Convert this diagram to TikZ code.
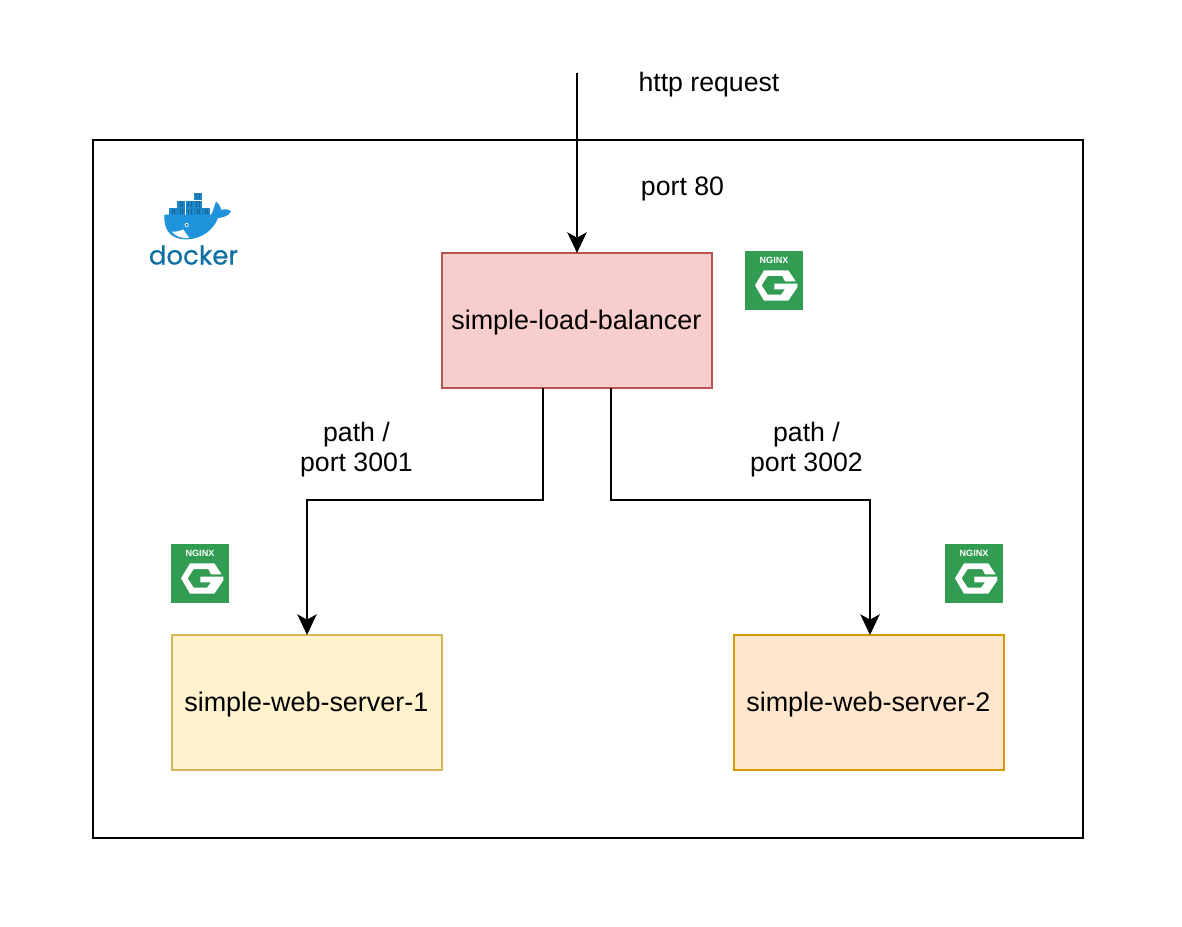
\documentclass[tikz,border=0pt]{standalone}
\usepackage{fontspec}
\setmainfont{Liberation Sans}
\newfontfamily\dockerfont[FakeBold=0.5]{Poppins}
\usetikzlibrary{arrows.meta,calc}
\definecolor{ngreen}{HTML}{329D52}
\definecolor{dblue}{HTML}{1F93DC}
\definecolor{dtext}{HTML}{0E6FA3}
\newcommand{\boxlabel}[1]{\kern-1pt\raisebox{-7pt}[0pt][0pt]{#1}}
\tikzset{
  px/.style={x=0.75pt,y=-0.75pt},
  service/.style={draw,line width=1.5pt,minimum width=202.5pt,minimum height=101.25pt,inner sep=0pt,outer sep=0pt,text=black,font=\fontsize{20.2}{24}\selectfont},
  label/.style={inner sep=0pt,align=center,font=\fontsize{20}{22.5}\selectfont,text=black},
  conn/.style={draw=black,line width=1.5pt,-{Stealth[length=15.5pt,width=14.5pt,inset=4pt]}},
  nginxicon/.pic={
    \begin{scope}[x=0.25pt,y=-0.25pt]
    \fill[ngreen] (30,28) rectangle (205,204);
    \fill[white] (60,130)--(87,85)--(160,85)--(182,118)--(150,118)--(142,102)--(98,102)--(80,130)--(98,158)--(138,158)--(150,142)--(118,142)--(118,125)--(187,125)--(187,136)--(160,176)--(87,176)--cycle;
    \node[text=white,inner sep=0pt,font=\bfseries\fontsize{6.8}{7}\selectfont] at (117,56) {NGINX};
    \end{scope}
  }
}
\begin{document}
\begin{tikzpicture}[px]
\useasboundingbox (0,0) rectangle (1182,927);
\fill[white] (0,0) rectangle (1182,927);
\node[draw=black,line width=1.5pt,minimum width=742.5pt,minimum height=523.5pt,inner sep=0pt,outer sep=0pt] (docker) at (588,489) {};
\node[service,fill={rgb,255:red,248;green,206;blue,204},draw={rgb,255:red,184;green,84;blue,80}] (lb) at (577,320.5) {\boxlabel{simple-load-balancer}};
\node[service,fill={rgb,255:red,255;green,242;blue,204},draw={rgb,255:red,214;green,182;blue,86}] (web1) at (307,702.5) {\boxlabel{simple-web-server-1}};
\node[service,fill={rgb,255:red,255;green,230;blue,204},draw={rgb,255:red,215;green,155;blue,0}] (web2) at (869,702.5) {\boxlabel{simple-web-server-2}};
\coordinate (req) at (577,73);
\draw[conn] (req) -- (lb.north);
\draw[conn] ($(lb.south west)!0.374!(lb.south east)$) -- ++(0,112) -| (web1.north);
\draw[conn] ($(lb.south west)!0.626!(lb.south east)$) -- ++(0,112) -| ($(web2.north)+(1,0)$);
\node[label] (lhttp) at (709,85) {http request};
\node[label] (lport) at (682.5,189) {port 80};
\node[label] (lp1) at (356.5,450) {path /\\port 3001};
\node[label] (lp2) at (806.5,450) {path /\\port 3002};
\pic at (735,242) {nginxicon};
\pic at (161,535) {nginxicon};
\pic at (935,535) {nginxicon};
\begin{scope}[shift={(130,180)},x=0.25pt,y=-0.25pt]
  \fill[dblue] (103,104)--(243,104) .. controls (248,100) and (250,85) .. (258,65) .. controls (266,70) and (272,80) .. (274,90) .. controls (285,86) and (296,88) .. (303,94) .. controls (296,108) and (280,113) .. (264,114) .. controls (250,150) and (215,178) .. (168,178) .. controls (122,178) and (100,150) .. (103,104) -- cycle;
  \fill[white] (125,155) .. controls (140,156) and (152,152) .. (160,148) .. controls (165,158) and (172,166) .. (178,173) .. controls (160,178) and (138,170) .. (125,155) -- cycle;
  \fill[white] (170,135) circle (6);
  \fill[dtext!70!black] (170,135) circle (3.5);
  \foreach \bx/\by in {117/84,142/84,167/84,192/84,217/84,142/62,167/62,191/62,191/40}{
    \fill[dblue!92!black] (\bx,\by) rectangle ++(24,21);
    \foreach \k in {8,15}{\draw[dblue!65!black,line width=0.25pt] (\bx+\k,\by+2) -- (\bx+\k,\by+18);}
  }
\end{scope}
\node[inner sep=0pt,text=dtext,font=\dockerfont\fontsize{19.5}{24}\selectfont] (dk) at (193.5,255) {docker};
\end{tikzpicture}
\end{document}
